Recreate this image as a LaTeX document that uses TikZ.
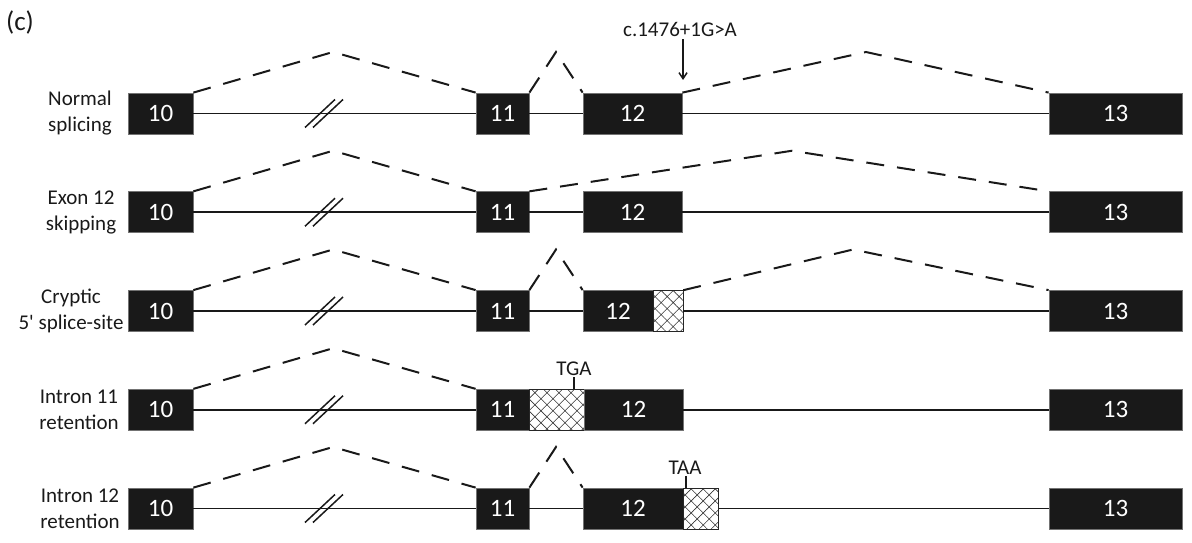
\documentclass[tikz,border=0pt]{standalone}
\usepackage{fontspec}
\setmainfont{Carlito}[Ligatures=TeXOff]
\usetikzlibrary{patterns.meta,arrows.meta}
\tikzset{
  exon/.style={fill=black!90, draw=black!55, line width=0.8pt, minimum height=41pt, inner sep=0pt, text=white, font=\fontsize{25}{28}\selectfont},
  hbox/.style={fill=white, draw=black!85, line width=1pt, minimum height=41pt, inner sep=0pt,
     pattern={Hatch[angle=45,distance=8.5pt,line width=0.6pt]}, pattern color=black!80},
  intron/.style={line width=1.6pt, black!90},
  splice/.style={line width=2pt, black!90, dash pattern=on 18pt off 13pt},
  lbl/.style={align=center, font=\fontsize{21}{26}\selectfont, text=black!90},
  txt/.style={font=\fontsize{21}{24}\selectfont, text=black!90, inner sep=0pt},
  brk/.style={line width=1.5pt, black!90},
}
\begin{document}
\begin{tikzpicture}[x=1pt,y=-1pt]
\useasboundingbox (0,0) rectangle (1192,543);
\node[txt, font=\fontsize{27}{30}\selectfont] (tag) at (20,22) {(c)};

% ---------- Row 1: Normal splicing ----------
\def\ry{113.5}
\node[lbl] (l1) at (80,\ry) {Normal\\splicing};
\node[exon, minimum width=65pt] (a10) at (160.5,\ry) {10};
\node[exon, minimum width=53pt] (a11) at (502.5,\ry) {11};
\node[exon, minimum width=99pt] (a12) at (632.5,\ry) {12};
\node[exon, minimum width=133pt] (a13) at (1115.5,\ry) {13};
\draw[intron] (a10.east) -- (a11.west);
\draw[intron] (a11.east) -- (a12.west);
\draw[intron] (a12.east) -- (a13.west);
\coordinate (a1p) at (333,52);
\coordinate (a2p) at (556,52);
\coordinate (a3p) at (866,52);
\draw[splice] (a10.north east) -- (a1p) -- (a11.north west);
\draw[splice] (a11.north east) -- (a2p) -- (a12.north west);
\draw[splice] (a12.north east) -- (a3p) -- (a13.north west);
\draw[brk] (305,127.5) -- (335,99.5);
\draw[brk] (313,127.5) -- (343,99.5);
\node[txt] (mut) at (680,29) {c.1476+1G>A};
\coordinate (mutpt) at (683,80);
\draw[line width=1.5pt, black!90, -{Straight Barb[length=6pt,width=8pt]}] (mut.south -| mutpt) ++(0,3) -- (mutpt);

% ---------- Row 2: Exon 12 skipping ----------
\def\ry{212.25}
\node[lbl] (l2) at (81,\ry) {Exon 12\\skipping};
\node[exon, minimum width=65pt] (b10) at (160.5,\ry) {10};
\node[exon, minimum width=53pt] (b11) at (502.5,\ry) {11};
\node[exon, minimum width=99pt] (b12) at (632.5,\ry) {12};
\node[exon, minimum width=133pt] (b13) at (1115.5,\ry) {13};
\draw[intron] (b10.east) -- (b11.west);
\draw[intron] (b11.east) -- (b12.west);
\draw[intron] (b12.east) -- (b13.west);
\coordinate (b1p) at (333,150.75);
\coordinate (b2p) at (792,150.75);
\draw[splice] (b10.north east) -- (b1p) -- (b11.north west);
\draw[splice] (b11.north east) -- (b2p) -- (b13.north west);
\draw[brk] (305,226.25) -- (335,198.25);
\draw[brk] (313,226.25) -- (343,198.25);

% ---------- Row 3: Cryptic 5' splice-site ----------
\def\ry{311}
\node[lbl] (l3) at (71,\ry) {Cryptic\\5' splice-site};
\node[exon, minimum width=65pt] (c10) at (160.5,\ry) {10};
\node[exon, minimum width=53pt] (c11) at (502.5,\ry) {11};
\node[exon, minimum width=70pt] (c12) at (618,\ry) {12};
\node[hbox, minimum width=30pt] (c12h) at (668,\ry) {};
\node[exon, minimum width=133pt] (c13) at (1115.5,\ry) {13};
\draw[intron] (c10.east) -- (c11.west);
\draw[intron] (c11.east) -- (c12.west);
\draw[intron] (c12h.east) -- (c13.west);
\coordinate (c1p) at (333,249.5);
\coordinate (c2p) at (556,249.5);
\coordinate (c3p) at (853,249.5);
\draw[splice] (c10.north east) -- (c1p) -- (c11.north west);
\draw[splice] (c11.north east) -- (c2p) -- (c12.north west);
\draw[splice] (c12h.north east) -- (c3p) -- (c13.north west);
\draw[brk] (305,325) -- (335,297);
\draw[brk] (313,325) -- (343,297);

% ---------- Row 4: Intron 11 retention ----------
\def\ry{409.75}
\node[lbl] (l4) at (79,\ry) {Intron 11\\retention};
\node[exon, minimum width=65pt] (d10) at (160.5,\ry) {10};
\node[exon, minimum width=53pt] (d11) at (502.5,\ry) {11};
\node[hbox, minimum width=55pt] (d11h) at (556.5,\ry) {};
\node[exon, minimum width=99pt] (d12) at (633.5,\ry) {12};
\node[exon, minimum width=133pt] (d13) at (1115.5,\ry) {13};
\draw[intron] (d10.east) -- (d11.west);
\draw[intron] (d12.east) -- (d13.west);
\coordinate (d1p) at (333,348.25);
\draw[splice] (d10.north east) -- (d1p) -- (d11.north west);
\draw[brk] (305,423.75) -- (335,395.75);
\draw[brk] (313,423.75) -- (343,395.75);
\node[txt] (tga) at (574,369) {TGA};
\coordinate (tgapt) at (574,389);
\draw[line width=1.3pt, black!90] (tga.south -| tgapt) ++(0,1) -- (tgapt);

% ---------- Row 5: Intron 12 retention ----------
\def\ry{508.5}
\node[lbl] (l5) at (80,\ry) {Intron 12\\retention};
\node[exon, minimum width=65pt] (e10) at (160.5,\ry) {10};
\node[exon, minimum width=53pt] (e11) at (502.5,\ry) {11};
\node[exon, minimum width=100pt] (e12) at (633,\ry) {12};
\node[hbox, minimum width=35pt] (e12h) at (700.5,\ry) {};
\node[exon, minimum width=133pt] (e13) at (1115.5,\ry) {13};
\draw[intron] (e10.east) -- (e11.west);
\draw[intron] (e11.east) -- (e12.west);
\draw[intron] (e12h.east) -- (e13.west);
\coordinate (e1p) at (333,447);
\coordinate (e2p) at (556,447);
\draw[splice] (e10.north east) -- (e1p) -- (e11.north west);
\draw[splice] (e11.north east) -- (e2p) -- (e12.north west);
\draw[brk] (305,522.5) -- (335,494.5);
\draw[brk] (313,522.5) -- (343,494.5);
\node[txt] (taa) at (685,468) {TAA};
\coordinate (taapt) at (686,488);
\draw[line width=1.3pt, black!90] (taa.south -| taapt) ++(0,1) -- (taapt);
\end{tikzpicture}
\end{document}
